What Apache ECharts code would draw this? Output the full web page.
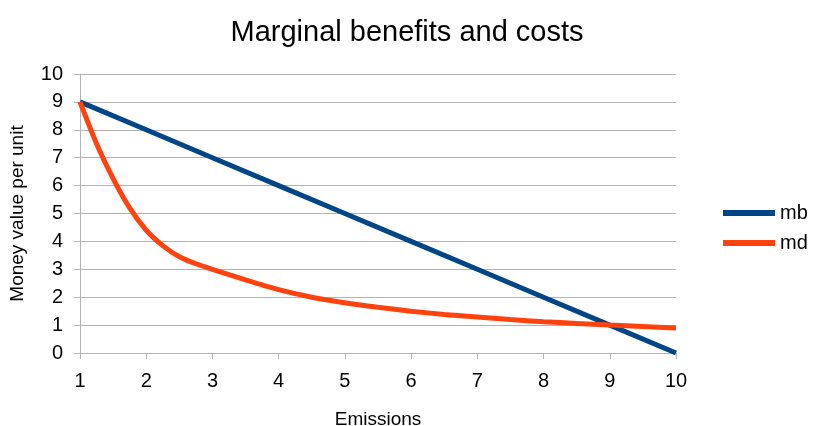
<!DOCTYPE html>
<html>
<head>
<meta charset="utf-8">
<script src="https://cdn.jsdelivr.net/npm/echarts@6/dist/echarts.min.js"></script>
<style>
  html, body { margin: 0; padding: 0; background: #fff; }
  #chart { width: 814px; height: 426px; }
</style>
</head>
<body>
<div id="chart"></div>
<script>
// values
const mbX = [1, 2, 3, 4, 5, 6, 7, 8, 9, 10];
const mbY = [9, 8, 7, 6, 5, 4, 3, 2, 1, 0];

const mdX = [1, 1.25, 1.5, 1.75, 2, 2.25, 2.5, 2.75, 3, 3.5, 4, 4.5, 5, 5.5, 6, 6.5, 7, 7.5, 8, 8.5, 9, 9.5, 10];
const mdY = [9, 7.5, 6.25, 5.2, 4.4, 3.85, 3.45, 3.2, 3.0, 2.62, 2.27, 2.0, 1.8, 1.64, 1.5, 1.38, 1.29, 1.2, 1.12, 1.06, 1.0, 0.95, 0.9];

const xTicks = [1, 2, 3, 4, 5, 6, 7, 8, 9, 10];

const pairs = (xs, ys) => xs.map((x, i) => [x, ys[i]]);

const chart = echarts.init(document.getElementById('chart'), null, { renderer: 'canvas' });

const axisGray = '#b3b3b3';
const font = 'Liberation Sans, Arial, sans-serif';

const option = {
    animation: false,
    title: {
        text: 'Marginal benefits and costs',
        left: 'center',
        top: 13,
        textStyle: { fontFamily: font, fontSize: 29, fontWeight: 'normal', color: '#000' }
    },
    legend: {
        orient: 'vertical',
        left: 718,
        top: 198,
        itemWidth: 52,
        itemHeight: 6,
        itemGap: 10,
        icon: 'rect',
        textStyle: { fontFamily: font, fontSize: 20, color: '#000' },
        data: ['mb', 'md']
    },
    grid: { left: 80, right: 138, top: 74, bottom: 73, containLabel: false, outerBoundsMode: 'none' },
    xAxis: {
        type: 'value',
        min: 1,
        max: 10,
        interval: 1,
        name: 'Emissions',
        nameLocation: 'middle',
        nameGap: 57,
        nameTextStyle: { fontFamily: font, fontSize: 19, color: '#000' },
        axisLine: { show: true, lineStyle: { color: axisGray } },
        axisTick: { show: true, length: 6, lineStyle: { color: axisGray } },
        axisLabel: {
            fontFamily: font, fontSize: 20, color: '#000', margin: 18,
            formatter: v => xTicks.includes(v) ? String(v) : ''
        },
        splitLine: { show: false }
    },
    yAxis: {
        type: 'value',
        min: 0,
        max: 10,
        interval: 1,
        name: 'Money value per unit',
        nameLocation: 'middle',
        nameGap: 53,
        nameTextStyle: { fontFamily: font, fontSize: 19, color: '#000' },
        axisLine: { show: true, lineStyle: { color: axisGray } },
        axisTick: { show: true, length: 6, lineStyle: { color: axisGray } },
        axisLabel: { fontFamily: font, fontSize: 20, color: '#000', margin: 17 },
        splitLine: { show: true, lineStyle: { color: axisGray } }
    },
    series: [
        {
            name: 'mb',
            type: 'line',
            data: pairs(mbX, mbY),
            showSymbol: false,
            symbol: 'none',
            lineStyle: { color: '#004586', width: 5 },
            itemStyle: { color: '#004586' }
        },
        {
            name: 'md',
            type: 'line',
            data: pairs(mdX, mdY),
            smooth: 0.2,
            showSymbol: false,
            symbol: 'none',
            lineStyle: { color: '#ff420e', width: 5 },
            itemStyle: { color: '#ff420e' }
        }
    ]
};

chart.setOption(option);
window.addEventListener('resize', chart.resize);
</script>
</body>
</html>
